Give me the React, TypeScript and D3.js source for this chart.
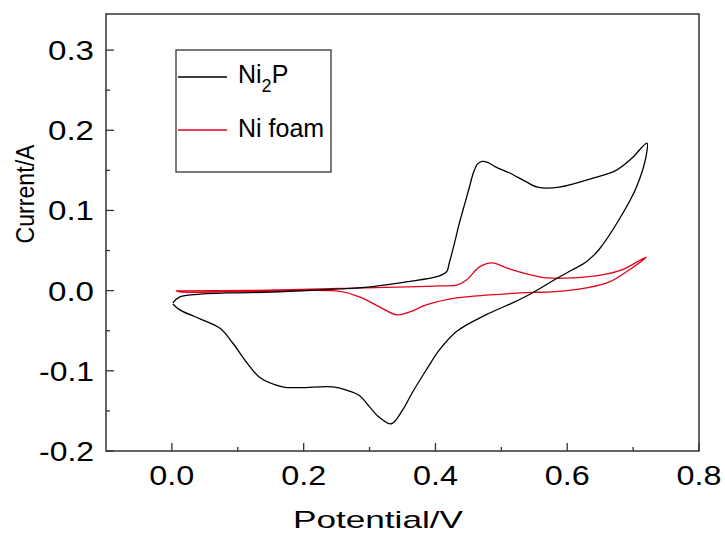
import React from "react";
import * as d3 from "d3";

const ni2pV = [0.0015, 0.012, 0.047, 0.083, 0.118, 0.194, 0.255, 0.305, 0.356, 0.406, 0.417, 0.421, 0.429, 0.436, 0.444, 0.452, 0.458, 0.464, 0.471, 0.479, 0.492, 0.512, 0.538, 0.555, 0.588, 0.638, 0.674, 0.698, 0.721,
  0.72, 0.705, 0.679, 0.648, 0.629, 0.608, 0.588, 0.547, 0.517, 0.477, 0.432, 0.406, 0.386, 0.365, 0.35, 0.333, 0.315, 0.3, 0.285, 0.265, 0.244, 0.194, 0.168, 0.133, 0.114, 0.092, 0.073, 0.042, 0.012, 0.0015];
const ni2pI = [-0.0153, -0.0079, -0.0041, -0.0029, -0.0025, -0.0004, 0.0021, 0.005, 0.0108, 0.0183, 0.0237, 0.0345, 0.0595, 0.0832, 0.1069, 0.1305, 0.148, 0.1581, 0.1611, 0.16, 0.154, 0.147, 0.1356, 0.129, 0.129, 0.14, 0.15, 0.165, 0.184,
  0.169, 0.129, 0.089, 0.051, 0.036, 0.026, 0.017, -0.0029, -0.0153, -0.03, -0.051, -0.074, -0.099, -0.127, -0.149, -0.166, -0.158, -0.145, -0.131, -0.124, -0.12, -0.121, -0.12, -0.108, -0.09, -0.065, -0.047, -0.035, -0.024, -0.0166];

const niFoamV = [0.006, 0.118, 0.255, 0.356, 0.406, 0.433, 0.447, 0.467, 0.486, 0.508, 0.527, 0.558, 0.568, 0.608, 0.653, 0.683, 0.72,
  0.717, 0.694, 0.664, 0.629, 0.577, 0.547, 0.482, 0.432, 0.386, 0.361, 0.342, 0.315, 0.285, 0.255, 0.118, 0.012, 0.006];
const niFoamI = [-0.0004, 0.0002, 0.0027, 0.0046, 0.0059, 0.0071, 0.0133, 0.0296, 0.0345, 0.0283, 0.0233, 0.0171, 0.0158, 0.0158, 0.0196, 0.0258, 0.042,
  0.0395, 0.0258, 0.0108, 0.0034, -0.0016, -0.0022, -0.0054, -0.0091, -0.0178, -0.0266, -0.0303, -0.0203, -0.0079, -0.001, -0.001, -0.0016, 0];

const xTicks = [0.0, 0.2, 0.4, 0.6, 0.8];
const xTickLabels = ["0.0", "0.2", "0.4", "0.6", "0.8"];
const xMinorTicks = [0.1, 0.3, 0.5, 0.7];
const yTicks = [0.3, 0.2, 0.1, 0.0, -0.1, -0.2];
const yTickLabels = ["0.3", "0.2", "0.1", "0.0", "-0.1", "-0.2"];
const yMinorTicks = [0.25, 0.15, 0.05, -0.05, -0.15];

const FONT = "'Liberation Sans', Arial, sans-serif";

export default function App() {
  const left = 106, right = 699, top = 14, bottom = 451;
  const x = d3.scaleLinear().domain([-0.1, 0.8]).range([left, right]);
  const y = d3.scaleLinear().domain([-0.2, 0.345]).range([bottom, top]);
  const line = d3
    .line<[number, number]>()
    .x((d) => x(d[0]))
    .y((d) => y(d[1]))
    .curve(d3.curveCatmullRom.alpha(0.5));
  const ni2p = ni2pV.map((v, i) => [v, ni2pI[i]] as [number, number]);
  const foam = niFoamV.map((v, i) => [v, niFoamI[i]] as [number, number]);
  const axisColor = "#333";

  return (
    <svg width={725} height={536} style={{ position: "absolute", left: 0, top: 0, background: "#fff" }} fontFamily={FONT}>
      <rect x={0} y={0} width={725} height={536} fill="#fff" />
      <path d={line(foam) || ""} fill="none" stroke="#e3001b" strokeWidth={1.3} />
      <path d={line(ni2p) || ""} fill="none" stroke="#000" strokeWidth={1.3} />
      <rect x={left} y={top} width={right - left} height={bottom - top} fill="none" stroke={axisColor} strokeWidth={1.5} />
      {xTicks.map((t, i) => (
        <g key={"xt" + i}>
          <line x1={x(t)} x2={x(t)} y1={bottom} y2={bottom - 8} stroke={axisColor} strokeWidth={1.3} />
          <text x={x(t)} y={485} fontSize={28} textAnchor="middle" textLength={45} lengthAdjust="spacingAndGlyphs" fill="#000">
            {xTickLabels[i]}
          </text>
        </g>
      ))}
      {xMinorTicks.map((t, i) => (
        <line key={"xm" + i} x1={x(t)} x2={x(t)} y1={bottom} y2={bottom - 4} stroke={axisColor} strokeWidth={1.3} />
      ))}
      {yTicks.map((t, i) => (
        <g key={"yt" + i}>
          <line x1={left} x2={left + 8} y1={y(t)} y2={y(t)} stroke={axisColor} strokeWidth={1.3} />
          <text x={94} y={y(t) + 10} fontSize={28} textAnchor="end" textLength={yTickLabels[i].length > 3 ? 55 : 46} lengthAdjust="spacingAndGlyphs" fill="#000">
            {yTickLabels[i]}
          </text>
        </g>
      ))}
      {yMinorTicks.map((t, i) => (
        <line key={"ym" + i} x1={left} x2={left + 4} y1={y(t)} y2={y(t)} stroke={axisColor} strokeWidth={1.3} />
      ))}
      <text x={293} y={528} fontSize={24} textLength={170} lengthAdjust="spacingAndGlyphs" fill="#000">
        Potential/V
      </text>
      <text transform="translate(33.5,194) scale(1.05,1) rotate(-90)" fontSize={25} textAnchor="middle" textLength={99} lengthAdjust="spacingAndGlyphs" fill="#000">
        Current/A
      </text>
      <rect x={176} y={50} width={155} height={122} fill="none" stroke={axisColor} strokeWidth={1.3} />
      <line x1={178} x2={227} y1={77} y2={77} stroke="#000" strokeWidth={1.3} />
      <line x1={178} x2={227} y1={130} y2={130} stroke="#e3001b" strokeWidth={1.3} />
      <text x={238} y={83} fontSize={25} fill="#000">
        Ni
        <tspan fontSize={18} dy={9}>2</tspan>
        <tspan dy={-9}>P</tspan>
      </text>
      <text x={238} y={137} fontSize={25} fill="#000">
        Ni foam
      </text>
    </svg>
  );
}
